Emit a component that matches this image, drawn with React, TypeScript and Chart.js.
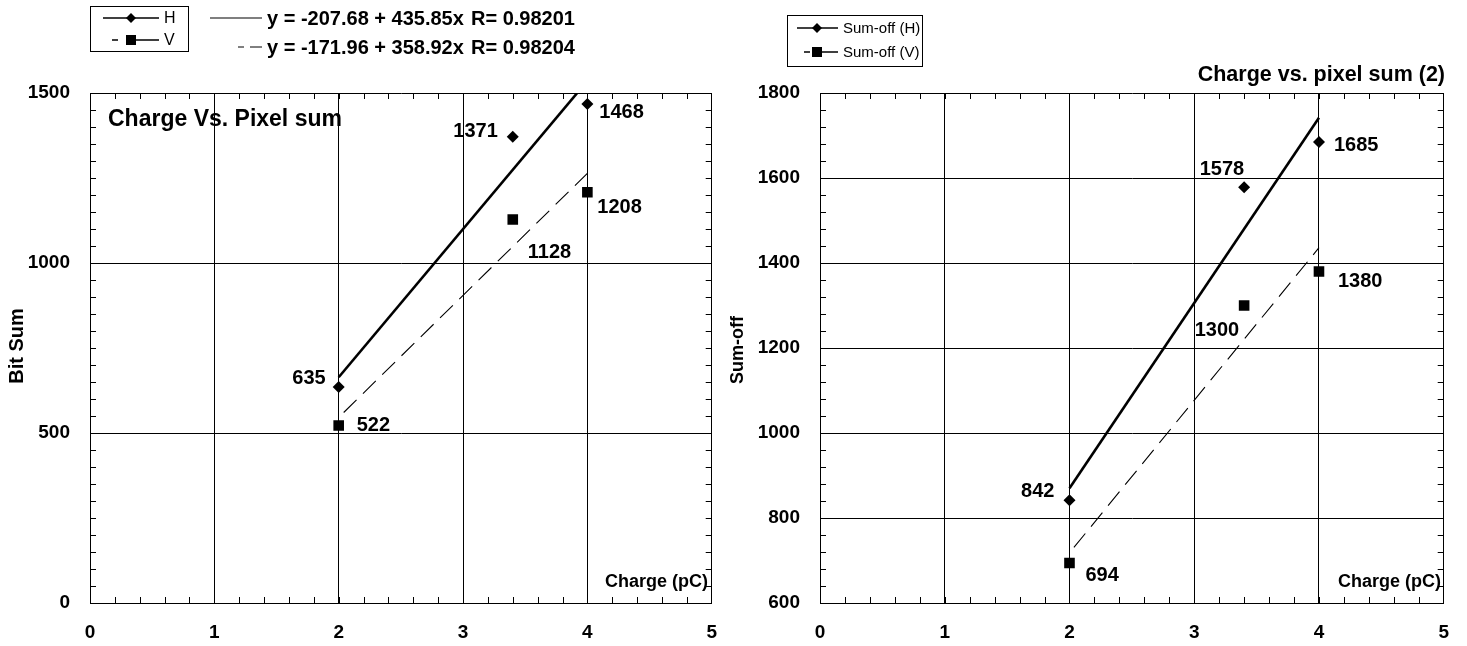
import React, { useEffect, useRef } from "react";
import { Chart, registerables } from "chart.js";

Chart.register(...registerables);

// ---------------- data ----------------
const chargePC = [2, 3.4, 4];
const bitSumH = [635, 1371, 1468];
const bitSumV = [522, 1128, 1208];
const sumOffH = [842, 1578, 1685];
const sumOffV = [694, 1300, 1380];

const fitRange = [2, 4];
const bitSumFitH = [663.9, 1535.7];
const bitSumFitV = [545.9, 1263.7];
const sumOffFitH = [870, 1742];
const sumOffFitV = [718, 1436];

const xTickValues = [0, 1, 2, 3, 4, 5];
const bitSumTickValues = [0, 500, 1000, 1500];
const sumOffTickValues = [600, 800, 1000, 1200, 1400, 1600, 1800];

const leftLegendLabels = ["H", "V"];
const rightLegendLabels = ["Sum-off (H)", "Sum-off (V)"];
const fitEquations = ["y = -207.68 + 435.85x", "y = -171.96 + 358.92x"];
const fitRValues = ["R= 0.98201", "R= 0.98204"];

const leftTitle = "Charge Vs. Pixel sum";
const rightTitle = "Charge vs. pixel sum (2)";
const leftYTitle = "Bit Sum";
const rightYTitle = "Sum-off";
const xTitle = "Charge (pC)";

// ---------------- styling ----------------
const FONT = "'Liberation Sans', Arial, Helvetica, sans-serif";
const BLACK = "#000";

type LabelPos = { dx: number; dy: number; align: CanvasTextAlign };

type Decor = {
  offsetX: number;
  xMinor: number;
  yMinor: number;
  title: { text: string; x: number; y: number; align: CanvasTextAlign; size: number };
  yTitle: { text: string; x: number; y: number; size: number };
  xTitle: { text: string; x: number; y: number; size: number };
  legend: {
    box: [number, number, number, number];
    rowsY: number[];
    labels: string[];
    lineX0: number;
    lineX1: number;
    markerX: number;
    dashX0: number;
    dashX1: number;
    textX: number;
    size: number;
  };
  equations?: { rowsY: number[]; lineX0: number; lineX1: number; textX: number; rX: number; size: number };
  labelPos: LabelPos[][];
  labelValues: number[][];
};

function drawDiamond(ctx: CanvasRenderingContext2D, x: number, y: number, r: number) {
  ctx.beginPath();
  ctx.moveTo(x, y - r);
  ctx.lineTo(x + r, y);
  ctx.lineTo(x, y + r);
  ctx.lineTo(x - r, y);
  ctx.closePath();
  ctx.fill();
}

function drawSquare(ctx: CanvasRenderingContext2D, x: number, y: number, half: number) {
  ctx.fillRect(x - half, y - half, half * 2, half * 2);
}

function makeDecorPlugin(d: Decor) {
  return {
    id: "decor",
    afterDraw(chart: any) {
      const ctx: CanvasRenderingContext2D = chart.ctx;
      const ox = d.offsetX;
      const { left, right, top, bottom } = chart.chartArea;
      const xs = chart.scales.x;
      const ys = chart.scales.y;
      ctx.save();
      ctx.strokeStyle = BLACK;
      ctx.fillStyle = BLACK;
      ctx.lineWidth = 1;

      // minor ticks on all four sides, pointing inward
      ctx.beginPath();
      const nx = Math.round((xs.max - xs.min) / d.xMinor);
      for (let i = 1; i < nx; i++) {
        const px = Math.round(xs.getPixelForValue(xs.min + i * d.xMinor)) + 0.5;
        ctx.moveTo(px, bottom);
        ctx.lineTo(px, bottom - 6);
        ctx.moveTo(px, top);
        ctx.lineTo(px, top + 6);
      }
      const ny = Math.round((ys.max - ys.min) / d.yMinor);
      for (let i = 1; i < ny; i++) {
        const py = Math.round(ys.getPixelForValue(ys.min + i * d.yMinor)) + 0.5;
        ctx.moveTo(left, py);
        ctx.lineTo(left + 6, py);
        ctx.moveTo(right, py);
        ctx.lineTo(right - 6, py);
      }
      ctx.stroke();

      // titles
      ctx.textBaseline = "middle";
      ctx.font = `bold ${d.title.size}px ${FONT}`;
      ctx.textAlign = d.title.align;
      ctx.fillText(d.title.text, d.title.x - ox, d.title.y);

      ctx.font = `bold ${d.xTitle.size}px ${FONT}`;
      ctx.textAlign = "right";
      ctx.fillText(d.xTitle.text, d.xTitle.x - ox, d.xTitle.y);

      ctx.save();
      ctx.translate(d.yTitle.x - ox, d.yTitle.y);
      ctx.rotate(-Math.PI / 2);
      ctx.font = `bold ${d.yTitle.size}px ${FONT}`;
      ctx.textAlign = "center";
      ctx.fillText(d.yTitle.text, 0, 0);
      ctx.restore();

      // data labels
      ctx.font = `bold 20px ${FONT}`;
      for (let ds = 0; ds < 2; ds++) {
        const meta = chart.getDatasetMeta(ds);
        meta.data.forEach((pt: any, j: number) => {
          const p = d.labelPos[ds][j];
          ctx.textAlign = p.align;
          ctx.fillText(String(d.labelValues[ds][j]), pt.x + p.dx, pt.y + p.dy);
        });
      }

      // legend box
      const L = d.legend;
      ctx.lineWidth = 1;
      ctx.strokeRect(L.box[0] - ox + 0.5, L.box[1] + 0.5, L.box[2], L.box[3]);
      ctx.font = `${L.size}px ${FONT}`;
      ctx.textAlign = "left";
      // row H
      ctx.lineWidth = 1.5;
      ctx.beginPath();
      ctx.moveTo(L.lineX0 - ox, L.rowsY[0]);
      ctx.lineTo(L.lineX1 - ox, L.rowsY[0]);
      ctx.stroke();
      drawDiamond(ctx, L.markerX - ox, L.rowsY[0], 5);
      ctx.fillText(L.labels[0], L.textX - ox, L.rowsY[0] + 1);
      // row V
      ctx.beginPath();
      ctx.moveTo(L.dashX0 - ox, L.rowsY[1]);
      ctx.lineTo(L.dashX1 - ox, L.rowsY[1]);
      ctx.moveTo(L.markerX + 5 - ox, L.rowsY[1]);
      ctx.lineTo(L.lineX1 - ox, L.rowsY[1]);
      ctx.stroke();
      drawSquare(ctx, L.markerX - ox, L.rowsY[1], 5);
      ctx.fillText(L.labels[1], L.textX - ox, L.rowsY[1] + 1);

      // fit equations
      if (d.equations) {
        const E = d.equations;
        ctx.font = `bold ${E.size}px ${FONT}`;
        ctx.lineWidth = 1.2;
        ctx.beginPath();
        ctx.moveTo(E.lineX0 - ox, E.rowsY[0]);
        ctx.lineTo(E.lineX1 - ox, E.rowsY[0]);
        ctx.stroke();
        ctx.lineWidth = 1;
        ctx.beginPath();
        ctx.moveTo(E.lineX0 + 28 - ox, E.rowsY[1]);
        ctx.lineTo(E.lineX0 + 34 - ox, E.rowsY[1]);
        ctx.moveTo(E.lineX0 + 40 - ox, E.rowsY[1]);
        ctx.lineTo(E.lineX1 - ox, E.rowsY[1]);
        ctx.stroke();
        for (let r = 0; r < 2; r++) {
          ctx.textAlign = "left";
          ctx.fillText(fitEquations[r], E.textX - ox, E.rowsY[r] + 1);
          ctx.fillText(fitRValues[r], E.rX - ox, E.rowsY[r] + 1);
        }
      }
      ctx.restore();
    },
  };
}

type PanelSpec = {
  hVals: number[];
  vVals: number[];
  fitH: number[];
  fitV: number[];
  yMin: number;
  yMax: number;
  yTickValues: number[];
  yAxisWidth: number;
  padRight: number;
  decor: Decor;
};

function buildConfig(s: PanelSpec): any {
  const tickFont = { family: FONT, size: 19, weight: "bold" as const };
  return {
    type: "scatter",
    data: {
      datasets: [
        {
          data: chargePC.map((x, i) => ({ x, y: s.hVals[i] })),
          pointStyle: "rectRot",
          pointRadius: 6,
          backgroundColor: BLACK,
          borderColor: BLACK,
          borderWidth: 0,
          showLine: false,
        },
        {
          data: chargePC.map((x, i) => ({ x, y: s.vVals[i] })),
          pointStyle: "rect",
          pointRadius: 7.5,
          backgroundColor: BLACK,
          borderColor: BLACK,
          borderWidth: 0,
          showLine: false,
        },
        {
          data: fitRange.map((x, i) => ({ x, y: s.fitH[i] })),
          showLine: true,
          borderColor: BLACK,
          borderWidth: 2.6,
          pointRadius: 0,
          fill: false,
        },
        {
          data: fitRange.map((x, i) => ({ x, y: s.fitV[i] })),
          showLine: true,
          borderColor: BLACK,
          borderWidth: 1.1,
          borderDash: [18, 9],
          borderDashOffset: 20,
          pointRadius: 0,
          fill: false,
        },
      ],
    },
    options: {
      animation: false,
      responsive: false,
      maintainAspectRatio: false,
      layout: { padding: { left: 0, right: s.padRight, top: 93, bottom: 0 } },
      plugins: {
        legend: { display: false },
        tooltip: { enabled: false },
        title: { display: false },
      },
      scales: {
        x: {
          type: "linear",
          min: 0,
          max: 5,
          afterBuildTicks: (scale: any) => {
            scale.ticks = xTickValues.map((v) => ({ value: v }));
          },
          ticks: {
            font: tickFont,
            color: BLACK,
            padding: 18,
            maxRotation: 0,
            autoSkip: false,
            callback: (v: any) => String(v),
          },
          grid: { color: BLACK, lineWidth: 1, drawTicks: false },
          border: { color: BLACK, width: 1 },
          afterFit: (scale: any) => {
            scale.height = 43;
          },
        },
        y: {
          type: "linear",
          min: s.yMin,
          max: s.yMax,
          afterBuildTicks: (scale: any) => {
            scale.ticks = s.yTickValues.map((v) => ({ value: v }));
          },
          ticks: {
            font: tickFont,
            color: BLACK,
            padding: 20,
            autoSkip: false,
            callback: (v: any) => String(v),
          },
          grid: { color: BLACK, lineWidth: 1, drawTicks: false },
          border: { color: BLACK, width: 1 },
          afterFit: (scale: any) => {
            scale.width = s.yAxisWidth;
          },
        },
      },
    },
    plugins: [makeDecorPlugin(s.decor)],
  };
}

const LEFT_W = 735;
const RIGHT_X = 725;
const RIGHT_W = 1467 - RIGHT_X;

const leftSpec: PanelSpec = {
  hVals: bitSumH,
  vVals: bitSumV,
  fitH: bitSumFitH,
  fitV: bitSumFitV,
  yMin: 0,
  yMax: 1500,
  yTickValues: bitSumTickValues,
  yAxisWidth: 90,
  padRight: LEFT_W - 716,
  decor: {
    offsetX: 0,
    xMinor: 0.2,
    yMinor: 50,
    title: { text: leftTitle, x: 108, y: 120, align: "left", size: 23 },
    yTitle: { text: leftYTitle, x: 17, y: 346, size: 20 },
    xTitle: { text: xTitle, x: 708, y: 582, size: 18 },
    legend: {
      box: [90, 6, 98, 45],
      rowsY: [18, 40],
      labels: leftLegendLabels,
      lineX0: 103,
      lineX1: 159,
      markerX: 131,
      dashX0: 112,
      dashX1: 118,
      textX: 164,
      size: 16,
    },
    equations: { rowsY: [18, 47], lineX0: 210, lineX1: 262, textX: 267, rX: 471, size: 20 },
    labelPos: [
      [
        { dx: -13, dy: -9, align: "right" },
        { dx: -15, dy: -5, align: "right" },
        { dx: 12, dy: 9, align: "left" },
      ],
      [
        { dx: 18, dy: 0, align: "left" },
        { dx: 15, dy: 33, align: "left" },
        { dx: 10, dy: 15, align: "left" },
      ],
    ],
    labelValues: [bitSumH, bitSumV],
  },
};

const rightSpec: PanelSpec = {
  hVals: sumOffH,
  vVals: sumOffV,
  fitH: sumOffFitH,
  fitV: sumOffFitV,
  yMin: 600,
  yMax: 1800,
  yTickValues: sumOffTickValues,
  yAxisWidth: 820 - RIGHT_X,
  padRight: 1467 - 1448,
  decor: {
    offsetX: RIGHT_X,
    xMinor: 0.2,
    yMinor: 40,
    title: { text: rightTitle, x: 1445, y: 75, align: "right", size: 21.5 },
    yTitle: { text: rightYTitle, x: 738, y: 350, size: 18 },
    xTitle: { text: xTitle, x: 1441, y: 582, size: 18 },
    legend: {
      box: [787, 15, 135, 51],
      rowsY: [28, 52],
      labels: rightLegendLabels,
      lineX0: 797,
      lineX1: 838,
      markerX: 817,
      dashX0: 804,
      dashX1: 810,
      textX: 843,
      size: 15,
    },
    labelPos: [
      [
        { dx: -15, dy: -9, align: "right" },
        { dx: 0, dy: -18, align: "right" },
        { dx: 15, dy: 4, align: "left" },
      ],
      [
        { dx: 16, dy: 12, align: "left" },
        { dx: -5, dy: 25, align: "right" },
        { dx: 19, dy: 10, align: "left" },
      ],
    ],
    labelValues: [sumOffH, sumOffV],
  },
};

function ChartPanel({ left, width, spec }: { left: number; width: number; spec: PanelSpec }) {
  const ref = useRef<HTMLCanvasElement>(null);
  useEffect(() => {
    const chart = new Chart(ref.current as HTMLCanvasElement, buildConfig(spec));
    return () => chart.destroy();
  }, [spec]);
  return (
    <canvas
      ref={ref}
      width={width}
      height={646}
      style={{ position: "absolute", left, top: 0, width, height: 646 }}
    />
  );
}

export default function App() {
  return (
    <div
      style={{
        position: "absolute",
        left: 0,
        top: 0,
        width: 1467,
        height: 646,
        background: "#fff",
        overflow: "hidden",
      }}
    >
      <ChartPanel left={0} width={LEFT_W} spec={leftSpec} />
      <ChartPanel left={RIGHT_X} width={RIGHT_W} spec={rightSpec} />
    </div>
  );
}
